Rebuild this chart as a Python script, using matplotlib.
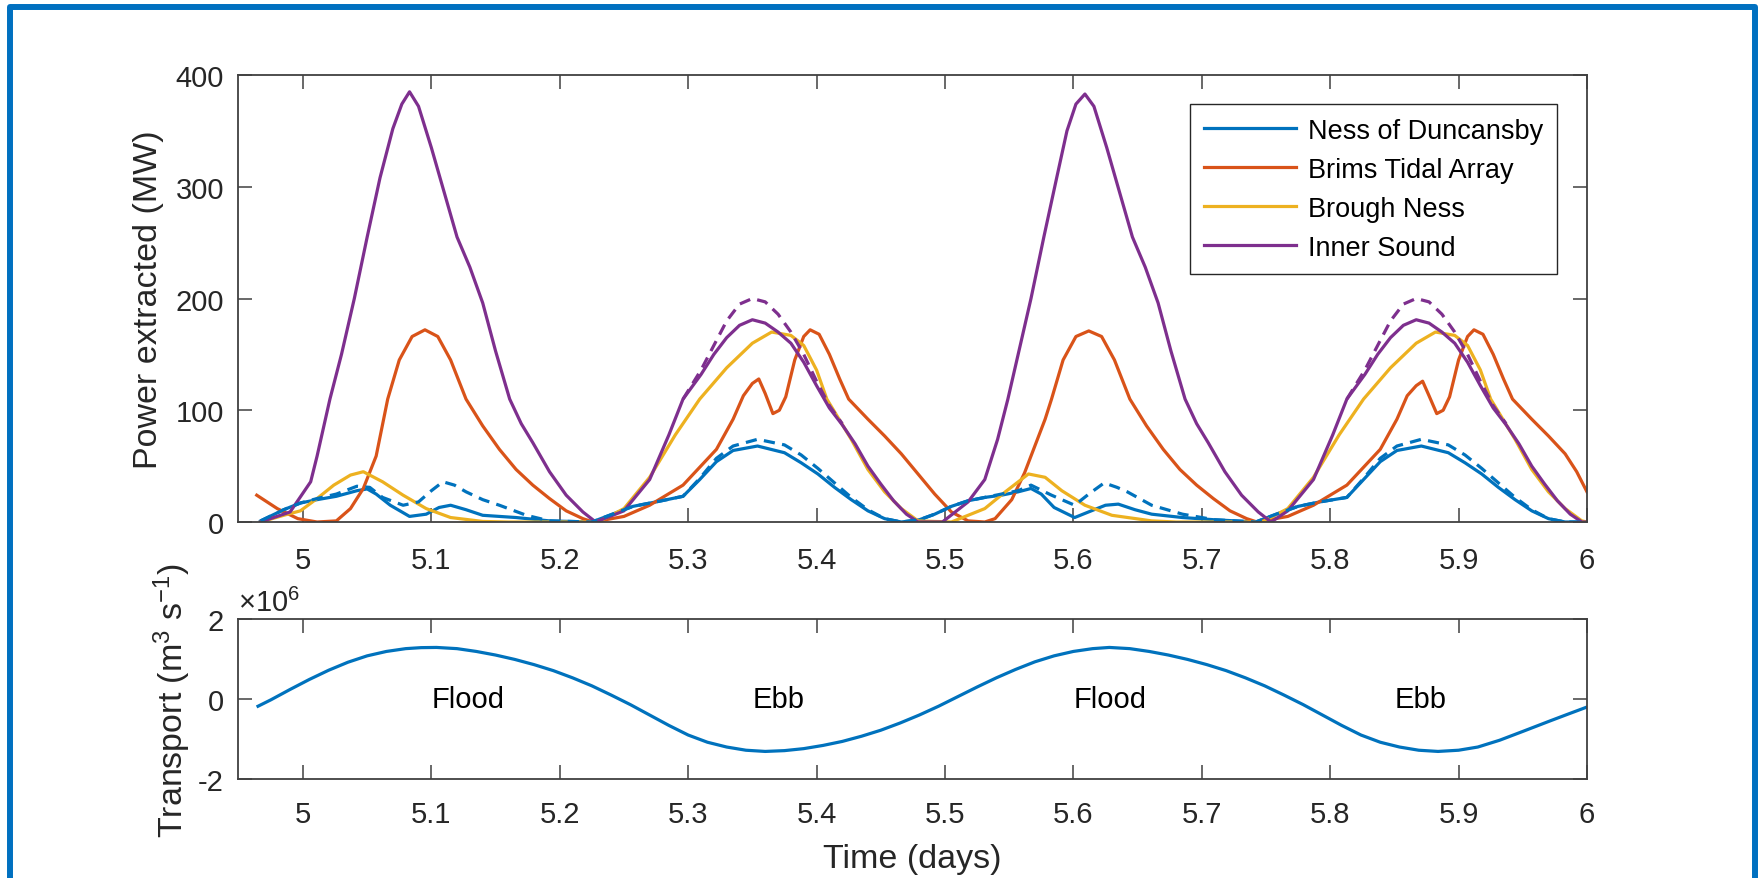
import matplotlib

matplotlib.use("Agg")
from matplotlib import pyplot as plt
from matplotlib.patches import Rectangle
from matplotlib.ticker import FuncFormatter

OUT_FILE = "out.png"

# series colours (MATLAB default order)
BLUE = "#0072BD"
ORANGE = "#D95319"
YELLOW = "#EDB120"
PURPLE = "#7E2F8E"
AXIS_COLOR = "#404040"
TEXT_COLOR = "#262626"

LABELS = ["Ness of Duncansby", "Brims Tidal Array", "Brough Ness", "Inner Sound"]
X_TICKS = [5.0, 5.1, 5.2, 5.3, 5.4, 5.5, 5.6, 5.7, 5.8, 5.9, 6.0]
POWER_TICKS = [0, 100, 200, 300, 400]
TRANSPORT_TICKS = [-2e6, 0, 2e6]

# Power extracted (MW), solid lines
NESS_T = [4.967, 4.985, 4.998, 5.011, 5.026, 5.042, 5.050, 5.057, 5.068, 5.083,
          5.096, 5.106, 5.115, 5.127, 5.140, 5.166, 5.192, 5.225, 5.241, 5.257,
          5.275, 5.296, 5.309, 5.322, 5.335, 5.354, 5.375, 5.388, 5.401, 5.414,
          5.427, 5.440, 5.453, 5.466, 5.480, 5.492, 5.505, 5.518, 5.531, 5.544,
          5.557, 5.567, 5.575, 5.585, 5.601, 5.614, 5.625, 5.635, 5.648, 5.661,
          5.685, 5.710, 5.742, 5.758, 5.775, 5.792, 5.813, 5.826, 5.839, 5.852,
          5.871, 5.892, 5.905, 5.918, 5.931, 5.944, 5.957, 5.970, 5.983, 6.000]
NESS_P = [1, 11, 17, 20, 23, 28, 29.6, 25, 15, 5,
          7, 13, 15, 11, 6, 4, 1, 0, 7, 14,
          18, 23, 38, 54, 64, 68, 62, 53, 43, 31,
          20, 10, 3, 0, 2, 7, 14, 19, 22, 24,
          27, 30, 25, 13, 4, 10, 15, 16, 11, 7,
          4, 2, 0, 7, 14, 18, 22, 38, 54, 64,
          68, 62, 53, 43, 31, 20, 10, 3, 0, 0]

BRIMS_T = [4.964, 4.980, 4.996, 5.011, 5.026, 5.037, 5.047, 5.057, 5.066, 5.075,
           5.085, 5.095, 5.105, 5.115, 5.127, 5.140, 5.153, 5.166, 5.179, 5.192,
           5.205, 5.218, 5.226, 5.250, 5.270, 5.296, 5.322, 5.335, 5.343, 5.350,
           5.355, 5.360, 5.366, 5.371, 5.376, 5.383, 5.390, 5.395, 5.402, 5.410,
           5.418, 5.425, 5.440, 5.453, 5.466, 5.479, 5.492, 5.505, 5.518, 5.531,
           5.539, 5.552, 5.562, 5.570, 5.578, 5.583, 5.592, 5.602, 5.612, 5.622,
           5.632, 5.644, 5.657, 5.670, 5.683, 5.696, 5.709, 5.722, 5.735, 5.743,
           5.767, 5.787, 5.813, 5.839, 5.852, 5.860, 5.867, 5.872, 5.877, 5.883,
           5.888, 5.893, 5.900, 5.907, 5.912, 5.919, 5.927, 5.935, 5.942, 5.957,
           5.970, 5.983, 5.992, 6.000]
BRIMS_P = [24, 12, 3, 0, 1, 12, 30, 59, 110, 145,
           166, 172, 166, 145, 110, 86, 65, 47, 33, 21,
           10, 3, 0, 5, 15, 33, 65, 92, 113, 124,
           128, 115, 97, 100, 112, 145, 166, 172, 168, 150,
           128, 110, 92, 77, 61, 43, 25, 9, 1, 0,
           3, 20, 44, 68, 92, 110, 145, 166, 171, 166,
           145, 110, 86, 65, 47, 33, 21, 10, 3, 0,
           5, 15, 33, 65, 92, 113, 122, 126, 113, 97,
           100, 112, 145, 166, 172, 168, 150, 128, 110, 92,
           77, 61, 45, 27]

BROUGH_T = [4.967, 4.985, 4.998, 5.011, 5.024, 5.037, 5.047, 5.062, 5.078, 5.096,
            5.115, 5.140, 5.160, 5.230, 5.250, 5.270, 5.290, 5.309, 5.330, 5.350,
            5.365, 5.380, 5.390, 5.400, 5.408, 5.427, 5.440, 5.453, 5.466, 5.479,
            5.505, 5.531, 5.547, 5.565, 5.578, 5.591, 5.609, 5.630, 5.661, 5.680,
            5.747, 5.767, 5.787, 5.807, 5.826, 5.847, 5.867, 5.882, 5.897, 5.907,
            5.917, 5.925, 5.944, 5.957, 5.970, 5.983, 5.996, 6.000]
BROUGH_P = [0, 6, 10, 21, 33, 42, 45, 36, 24, 12,
            4, 0.5, 0, 0, 12, 40, 78, 110, 138, 160,
            170, 167, 158, 136, 110, 74, 47, 27, 12, 1,
            0, 12, 27, 43, 40, 28, 15, 6, 1, 0,
            0, 12, 40, 78, 110, 138, 160, 170, 167, 158,
            136, 110, 74, 47, 27, 12, 1, 0]

INNER_T = [4.967, 4.990, 5.006, 5.011, 5.021, 5.030, 5.040, 5.050, 5.060, 5.070,
           5.077, 5.083, 5.090, 5.100, 5.110, 5.120, 5.130, 5.140, 5.150, 5.161,
           5.170, 5.179, 5.192, 5.205, 5.218, 5.228, 5.250, 5.270, 5.285, 5.296,
           5.310, 5.320, 5.330, 5.340, 5.350, 5.360, 5.370, 5.380, 5.390, 5.400,
           5.410, 5.420, 5.430, 5.440, 5.450, 5.460, 5.470, 5.479, 5.498, 5.518,
           5.531, 5.541, 5.549, 5.557, 5.567, 5.577, 5.587, 5.595, 5.602, 5.609,
           5.616, 5.626, 5.636, 5.646, 5.656, 5.666, 5.676, 5.687, 5.696, 5.705,
           5.718, 5.731, 5.744, 5.754, 5.767, 5.787, 5.802, 5.813, 5.827, 5.837,
           5.847, 5.857, 5.867, 5.877, 5.887, 5.897, 5.907, 5.917, 5.927, 5.937,
           5.947, 5.957, 5.967, 5.977, 5.987, 5.996, 6.000]
INNER_P = [0, 9, 36, 59, 110, 150, 200, 255, 308, 352,
           374, 385, 372, 335, 295, 255, 228, 196, 153, 110,
           88, 71, 45, 24, 9, 0, 10, 38, 78, 110,
           132, 150, 165, 176, 181, 178, 170, 160, 143, 122,
           102, 87, 70, 50, 34, 19, 7, 0, 0, 18,
           38, 74, 110, 150, 200, 255, 308, 350, 374, 383,
           372, 335, 295, 255, 228, 196, 153, 110, 88, 71,
           45, 24, 9, 0, 10, 38, 78, 110, 132, 150,
           165, 176, 181, 178, 170, 160, 143, 122, 102, 87,
           70, 50, 34, 19, 7, 0, 0]

# dashed lines (only where they separate from the solid ones)
NESS_DASH_T = [4.967, 4.985, 4.998, 5.011, 5.026, 5.042, 5.052, 5.062, 5.078, 5.090,
               5.100, 5.109, 5.118, 5.127, 5.140, 5.153, 5.174, 5.192, 5.225, 5.241,
               5.257, 5.275, 5.296, 5.309, 5.322, 5.335, 5.354, 5.375, 5.388, 5.401,
               5.414, 5.427, 5.440, 5.453, 5.466, 5.480, 5.492, 5.505, 5.518, 5.531,
               5.544, 5.557, 5.567, 5.583, 5.601, 5.612, 5.624, 5.634, 5.642, 5.661,
               5.685, 5.710, 5.742, 5.758, 5.775, 5.792, 5.813, 5.826, 5.839, 5.852,
               5.871, 5.892, 5.905, 5.918, 5.931, 5.944, 5.957, 5.970, 5.983, 6.000]
NESS_DASH_P = [1, 11, 17, 21, 25, 32, 31, 22, 15, 18,
               28, 36, 33, 27, 20, 15, 6, 1, 0, 7,
               14, 18, 23, 39, 57, 68, 74, 69, 60, 48,
               35, 22, 11, 3, 0, 2, 7, 14, 19, 22,
               25, 28, 33, 24, 15, 25, 35, 31, 27, 15,
               7, 2, 0, 7, 14, 18, 22, 39, 57, 68,
               74, 69, 60, 48, 35, 22, 11, 3, 0, 0]

INNER_DASH_T = [5.296, 5.310, 5.320, 5.330, 5.340, 5.350, 5.360, 5.370, 5.380, 5.390,
                5.400, 5.410, 5.420, float("nan"),
                5.813, 5.827, 5.837, 5.847, 5.857, 5.867, 5.877, 5.887, 5.897, 5.907,
                5.917, 5.927, 5.937]
INNER_DASH_P = [110, 136, 158, 180, 195, 200, 197, 186, 170, 150,
                126, 104, 88, float("nan"),
                110, 136, 158, 180, 195, 200, 197, 186, 170, 150,
                126, 104, 88]

# Transport (units of 1e6 m3/s)
TRANS_T = [4.965, 4.975, 4.990, 5.005, 5.020, 5.035, 5.050, 5.065, 5.080, 5.092,
           5.104, 5.120, 5.135, 5.150, 5.165, 5.180, 5.195, 5.210, 5.225, 5.240,
           5.255, 5.270, 5.285, 5.300, 5.315, 5.330, 5.345, 5.360, 5.375, 5.390,
           5.405, 5.420, 5.435, 5.450, 5.465, 5.480, 5.495, 5.510, 5.525, 5.540,
           5.555, 5.570, 5.585, 5.600, 5.615, 5.628, 5.644, 5.659, 5.674, 5.689,
           5.704, 5.719, 5.734, 5.749, 5.764, 5.779, 5.794, 5.809, 5.824, 5.839,
           5.854, 5.869, 5.884, 5.900, 5.915, 5.932, 5.950, 5.971, 5.985, 6.000]
TRANS_V = [-0.18, -0.02, 0.24, 0.49, 0.72, 0.92, 1.08, 1.19, 1.26, 1.285,
           1.29, 1.26, 1.19, 1.10, 0.99, 0.86, 0.71, 0.53, 0.33, 0.10,
           -0.14, -0.40, -0.66, -0.90, -1.08, -1.20, -1.28, -1.31, -1.29, -1.24,
           -1.16, -1.06, -0.93, -0.78, -0.60, -0.40, -0.18, 0.06, 0.30, 0.53,
           0.74, 0.93, 1.08, 1.19, 1.26, 1.29, 1.26, 1.19, 1.10, 0.99,
           0.86, 0.71, 0.53, 0.33, 0.10, -0.14, -0.40, -0.66, -0.90, -1.08,
           -1.20, -1.28, -1.31, -1.28, -1.20, -1.03, -0.81, -0.55, -0.38, -0.20]

PHASE_T = [5.10, 5.35, 5.60, 5.85]
PHASE_LABELS = ["Flood", "Ebb", "Flood", "Ebb"]

plt.rcParams["font.family"] = ["Liberation Sans", "DejaVu Sans"]
plt.rcParams["mathtext.fontset"] = "custom"
plt.rcParams["mathtext.rm"] = "Liberation Sans"
plt.rcParams["mathtext.it"] = "Liberation Sans:italic"
plt.rcParams["axes.unicode_minus"] = False

TICK_SIZE = 21
LABEL_SIZE = 24.5
LEGEND_SIZE = 19.5
LW = 2.3
DASH = (0, (3.5, 2.3))


def style_axes(ax, xpad):
    for spine in ax.spines.values():
        spine.set_color(AXIS_COLOR)
        spine.set_linewidth(1.3)
    ax.tick_params(direction="in", length=10, width=1.1, color=AXIS_COLOR,
                   labelcolor=TEXT_COLOR, labelsize=TICK_SIZE,
                   top=True, right=True)
    ax.tick_params(axis="x", pad=xpad)
    ax.tick_params(axis="y", pad=10)
    ax.set_xlim(4.9494, 6.0)
    ax.set_xticks(X_TICKS)
    ax.xaxis.set_major_formatter(FuncFormatter(lambda v, p: f"{v:g}"))


fig = plt.figure(figsize=(17.59, 8.79), dpi=100)
ax1 = fig.add_axes([0.1353, 0.4050, 0.7669, 0.5085])
ax2 = fig.add_axes([0.1353, 0.1126, 0.7669, 0.1820])

# power panel
colors = [BLUE, ORANGE, YELLOW, PURPLE]
series = [(NESS_T, NESS_P), (BRIMS_T, BRIMS_P), (BROUGH_T, BROUGH_P), (INNER_T, INNER_P)]
for (t, p), c, lab in zip(series, colors, LABELS):
    ax1.plot(t, p, color=c, lw=LW, label=lab)
ax1.plot(NESS_DASH_T, NESS_DASH_P, color=BLUE, lw=LW, ls=DASH)
ax1.plot(INNER_DASH_T, INNER_DASH_P, color=PURPLE, lw=LW, ls=DASH)

style_axes(ax1, 17)
ax1.set_ylim(0, 400)
ax1.set_yticks(POWER_TICKS)
ax1.set_ylabel("Power extracted (MW)", fontsize=LABEL_SIZE, color=TEXT_COLOR, labelpad=8)

leg = ax1.legend(loc="upper right", bbox_to_anchor=(0.9778, 0.9351), borderaxespad=0,
                 fontsize=LEGEND_SIZE, fancybox=False, framealpha=1, edgecolor=TEXT_COLOR,
                 handlelength=3.4, handletextpad=0.45, labelspacing=0.48, borderpad=0.5)
leg.get_frame().set_linewidth(1.0)

# transport panel
ax2.plot(TRANS_T, [v * 1e6 for v in TRANS_V], color=BLUE, lw=LW)
for t, lab in zip(PHASE_T, PHASE_LABELS):
    ax2.text(t, 0, lab, fontsize=TICK_SIZE, ha="left", va="center", color="black")

style_axes(ax2, 15)
ax2.set_ylim(-2e6, 2e6)
ax2.set_yticks(TRANSPORT_TICKS)
ax2.yaxis.set_major_formatter(FuncFormatter(lambda v, p: f"{v / 1e6:g}"))
ax2.text(0.0, 1.01, r"$\times$10$^{6}$", transform=ax2.transAxes, ha="left", va="bottom",
         fontsize=TICK_SIZE, color=TEXT_COLOR)
ax2.set_ylabel("Transport (m$^{3}$ s$^{-1}$)", fontsize=LABEL_SIZE, color=TEXT_COLOR, labelpad=4)
ax2.set_xlabel("Time (days)", fontsize=LABEL_SIZE, color=TEXT_COLOR, labelpad=11)

# blue frame around the picture (bottom edge falls outside)
fig.add_artist(Rectangle((10 / 1759, -0.05), 1745 / 1759, 1.05 - 8 / 879,
                         transform=fig.transFigure, fill=False,
                         edgecolor="#0070C0", linewidth=4.3, joinstyle="round"))

fig.savefig(OUT_FILE, dpi=100)
